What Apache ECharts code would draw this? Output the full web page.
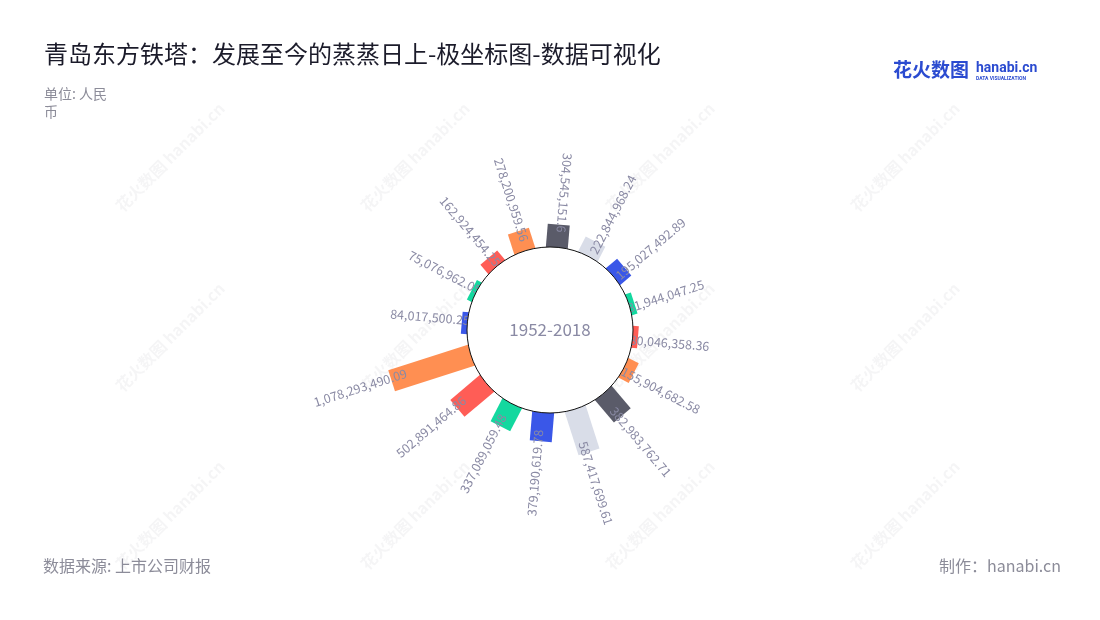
<!DOCTYPE html>
<html>
<head>
<meta charset="utf-8">
<script src="https://cdn.jsdelivr.net/npm/echarts@6/dist/echarts.min.js"></script>
<style>
html,body{margin:0;padding:0;background:#ffffff;}
#chart{width:1100px;height:620px;}
</style>
</head>
<body>
<div id="chart"></div>
<script>
// ---- data (clockwise from the top) ----
const categories = ['1','2','3','4','5','6','7','8','9','10','11','12','13','14','15','16'];
const values = [304545151.6, 222844968.24, 195027492.89, 81944047.25, 80046358.36, 155904682.58,
                382983762.71, 587417699.61, 379190619.78, 337089059.48, 502891464.86, 1078293490.09,
                84017500.25, 75076962.05, 162924454.25, 278200959.56];
const barColors = ['#5a5b69', '#d9dde8', '#3a57e8', '#13d89f', '#ff5d56', '#ff8f52',
                   '#5a5b69', '#d9dde8', '#3a57e8', '#13d89f', '#ff5d56', '#ff8f52',
                   '#3a57e8', '#13d89f', '#ff5d56', '#ff8f52'];
const periodLabel = '1952-2018';
const titleText = '青岛东方铁塔：发展至今的蒸蒸日上-极坐标图-数据可视化';
const unitText = '单位: 人民\n币';
const sourceText = '数据来源: 上市公司财报';
const makerText = '制作：hanabi.cn';

const FONT = '"Noto Sans CJK SC", "Noto Sans", sans-serif';
const LABEL_COLOR = '#8a8aa4';

function fmt(v) {
  return v.toLocaleString('en-US', { maximumFractionDigits: 2 });
}

function renderItem(params, api) {
  const i = api.value(1);
  const v = api.value(0);
  const cs = params.coordSys;
  const p0 = api.coord([0, i]);
  const p1 = api.coord([v, i]);
  const dx = p1[0] - cs.cx, dy = p1[1] - cs.cy;
  const len = Math.hypot(dx, dy);
  const ux = dx / len, uy = dy / len;
  const nx = -uy, ny = ux; // clockwise tangent
  const hw = 11;
  const pts = [
    [p0[0] + nx * hw, p0[1] + ny * hw],
    [p1[0] + nx * hw, p1[1] + ny * hw],
    [p1[0] - nx * hw, p1[1] - ny * hw],
    [p0[0] - nx * hw, p0[1] - ny * hw]
  ];
  const a = Math.atan2(-dy, dx) * 180 / Math.PI;
  const outward = a > -90 && a < 75;
  const tdx = outward ? ux : -ux, tdy = outward ? uy : -uy;
  const rot = Math.atan2(-tdy, tdx);
  const lx = p1[0] + ux * 32 + nx * 3;
  const ly = p1[1] + uy * 32 + ny * 3;
  return {
    type: 'group',
    children: [
      { type: 'polygon', shape: { points: pts }, style: { fill: barColors[i] } },
      {
        type: 'text', x: lx, y: ly, rotation: rot, z2: 10,
        style: {
          text: fmt(v), fill: LABEL_COLOR, fontSize: 12.5, fontFamily: FONT,
          align: 'center', verticalAlign: 'middle'
        }
      }
    ]
  };
}

// faint watermarks
const wmX = [170, 415, 660, 905];
const wmY = [157, 337, 515];
const watermarks = [];
wmX.forEach(x => wmY.forEach(y => {
  watermarks.push({
    type: 'text', x: x, y: y, rotation: Math.PI / 4, silent: true, z: -1,
    style: { text: '花火数图 hanabi.cn', fill: 'rgba(60,60,80,0.05)', fontSize: 16,
             fontWeight: 'bold', fontFamily: FONT, align: 'center', verticalAlign: 'middle' }
  });
}));

const chart = echarts.init(document.getElementById('chart'), null, { renderer: 'canvas' });
chart.setOption({
  animation: false,
  backgroundColor: '#ffffff',
  title: [
    { text: titleText, left: 39, top: 37,
      textStyle: { fontSize: 24, fontWeight: 'normal', color: '#1b1b2a', fontFamily: FONT } },
    { text: unitText, left: 39, top: 80,
      textStyle: { fontSize: 14, fontWeight: 'normal', color: '#8c8c99', lineHeight: 18, fontFamily: FONT } },
    { text: sourceText, left: 38, top: 553,
      textStyle: { fontSize: 16, fontWeight: 'normal', color: '#8c8c99', fontFamily: FONT } },
    { text: makerText, right: 34, top: 553,
      textStyle: { fontSize: 16, fontWeight: 'normal', color: '#8c8c99', fontFamily: FONT } }
  ],
  graphic: [
    { type: 'group', children: watermarks },
    { type: 'text', left: 893, top: 60,
      style: { text: '花火数图', fill: '#2b4bd0', fontSize: 19, fontWeight: 'bold', fontFamily: FONT } },
    { type: 'text', left: 976, top: 61,
      style: { text: 'hanabi.cn', fill: '#2b4bd0', fontSize: 14, fontWeight: 'bold', fontFamily: 'Roboto, sans-serif' } },
    { type: 'text', left: 976, top: 76,
      style: { text: 'DATA VISUALIZATION', fill: '#2b4bd0', fontSize: 5, fontWeight: 'bold', fontFamily: 'Roboto, sans-serif' } }
  ],
  polar: { center: ['50%', 330], radius: [82, 168] },
  angleAxis: { type: 'category', data: categories, startAngle: 96.5, clockwise: true, show: false },
  radiusAxis: { type: 'value', min: 0, max: 1100000000, show: false },
  series: [
    {
      type: 'custom', coordinateSystem: 'polar', z: 2, silent: true,
      encode: { radius: 0, angle: 1 },
      data: values.map((v, i) => [v, i]),
      renderItem: renderItem
    },
    {
      type: 'pie', center: ['50%', 330], radius: [0, 83], z: 5, silent: true,
      itemStyle: { color: '#ffffff', borderColor: '#111111', borderWidth: 1 },
      label: { show: true, position: 'center', formatter: periodLabel, fontSize: 17,
               color: LABEL_COLOR, fontFamily: FONT },
      labelLine: { show: false },
      emphasis: { disabled: true },
      data: [{ value: 1, name: periodLabel }]
    }
  ]
});
</script>
</body>
</html>
